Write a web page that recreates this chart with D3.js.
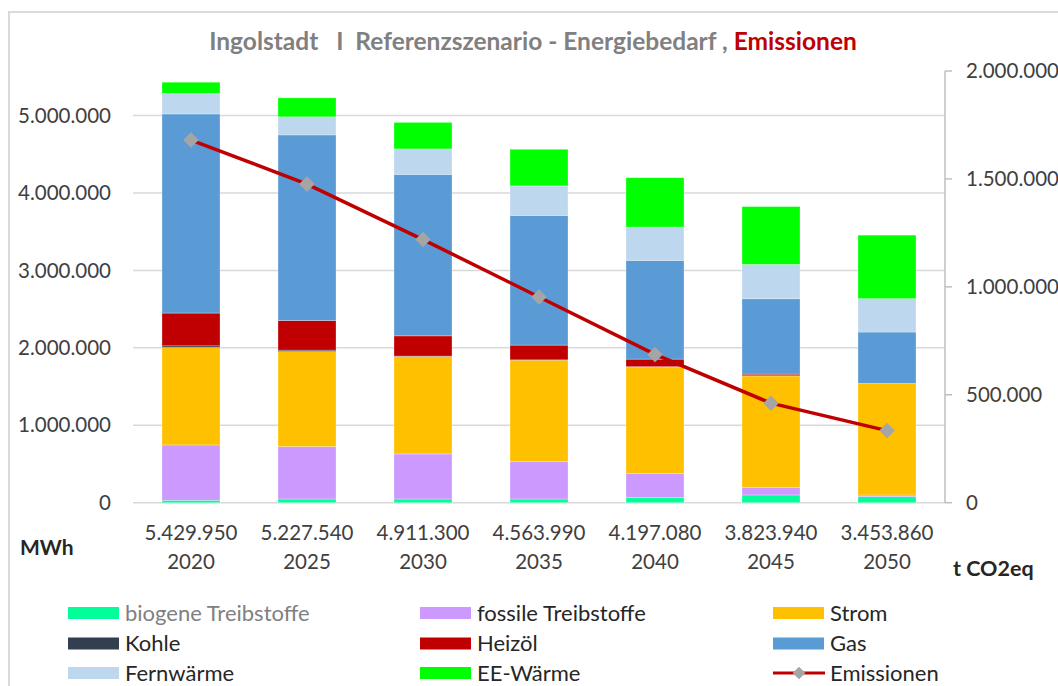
<!DOCTYPE html>
<html><head><meta charset="utf-8">
<script src="https://cdn.jsdelivr.net/npm/d3@7"></script>
<style>body{margin:0;background:#fff}svg{display:block;font-family:Lato,"Open Sans",sans-serif}</style>
</head><body><svg id="c" width="1058" height="686"></svg>
<script>
const years = ["2020","2025","2030","2035","2040","2045","2050"];
const totalLabels = ["5.429.950","5.227.540","4.911.300","4.563.990","4.197.080","3.823.940","3.453.860"];
const biogene   = [31000, 48000, 48000, 48000, 65000, 100000, 78000];
const fossil    = [715000, 676000, 582000, 482000, 315000, 99000, 22000];
const strom     = [1258000, 1228000, 1258000, 1311000, 1374000, 1439000, 1439000];
const kohle     = [22000, 18000, 5000, 4000, 3000, 2000, 0];
const heizoel   = [423000, 383000, 262000, 190000, 97000, 20000, 1000];
const gas       = [2572000, 2397000, 2085000, 1675000, 1275000, 974000, 664000];
const fernwaerme= [263000, 233000, 329000, 381000, 431000, 443000, 431000];
const eeWaerme  = [146000, 245000, 342000, 473000, 637000, 747000, 820000];
const emissionen= [1680000, 1476000, 1219000, 953000, 687000, 461000, 334000];
const leftTicks = [0,1000000,2000000,3000000,4000000,5000000];
const rightTicks = [0,500000,1000000,1500000,2000000];
const seriesNames = ["biogene Treibstoffe","fossile Treibstoffe","Strom","Kohle","Heizöl","Gas","Fernwärme","EE-Wärme"];
const seriesColors = ["#00FF99","#CC99FF","#FFC000","#333F50","#C00000","#5B9BD5","#BDD7EE","#00FF00"];
const seriesData = [biogene,fossil,strom,kohle,heizoel,gas,fernwaerme,eeWaerme];

const svg = d3.select("#c");
const loc = d3.formatLocale({decimal:",",thousands:".",grouping:[3],currency:["","€"]});
const fmt = loc.format(",d");

// frame
svg.append("path").attr("d","M9,686 V12 H1058").attr("fill","none").attr("stroke","#D9D9D9").attr("stroke-width",2);

const x0 = 133, x1 = 945, yB = 502.7, yT = 71;
const x = d3.scaleBand().domain(years).range([x0,x1]).paddingInner(0.5).paddingOuter(0.25);
const yL = d3.scaleLinear().domain([0,5575000]).range([yB,yT]);
const yR = d3.scaleLinear().domain([0,2000000]).range([yB,yT]);

// gridlines
svg.append("g").selectAll("line").data(leftTicks).join("line")
  .attr("x1",x0).attr("x2",x1).attr("y1",d=>yL(d)).attr("y2",d=>yL(d))
  .attr("stroke","#D9D9D9").attr("stroke-width",1.5);

// left labels
svg.append("g").selectAll("text").data(leftTicks).join("text")
  .attr("x",111).attr("y",d=>yL(d)).attr("dy","0.35em").attr("text-anchor","end")
  .attr("font-size",20.5).attr("fill","#404040").text(d=>fmt(d));

// stacked bars
const rows = years.map((y,i)=>{const o={year:y};seriesNames.forEach((n,k)=>o[n]=seriesData[k][i]);return o;});
const stack = d3.stack().keys(seriesNames)(rows);
svg.append("g").selectAll("g").data(stack).join("g")
  .attr("fill",(d,i)=>seriesColors[i])
  .selectAll("rect").data(d=>d).join("rect")
  .attr("x",d=>x(d.data.year)).attr("width",x.bandwidth())
  .attr("y",d=>yL(d[1])).attr("height",d=>Math.max(0,yL(d[0])-yL(d[1])))
  .attr("stroke","rgba(255,255,255,0.35)").attr("stroke-width",0.8);

// right axis
const ra = svg.append("g");
ra.append("line").attr("x1",x1).attr("x2",x1).attr("y1",yT).attr("y2",yB).attr("stroke","#BFBFBF").attr("stroke-width",1.5);
ra.selectAll("line.t").data(rightTicks).join("line").attr("class","t")
  .attr("x1",x1).attr("x2",x1+7).attr("y1",d=>yR(d)).attr("y2",d=>yR(d)).attr("stroke","#BFBFBF").attr("stroke-width",1.5);
ra.selectAll("text").data(rightTicks).join("text")
  .attr("x",966).attr("y",d=>yR(d)).attr("dy","0.35em")
  .attr("font-size",20.5).attr("fill","#404040").text(d=>fmt(d));

// emissions line
const cx = d=>x(d)+x.bandwidth()/2;
svg.append("path").datum(emissionen)
  .attr("d",d3.line().x((d,i)=>cx(years[i])).y(d=>yR(d)))
  .attr("fill","none").attr("stroke","#C00000").attr("stroke-width",3.5);
svg.append("g").selectAll("path").data(emissionen).join("path")
  .attr("transform",(d,i)=>`translate(${cx(years[i])},${yR(d)}) rotate(45)`)
  .attr("d","M-5.5,-5.5H5.5V5.5H-5.5Z").attr("fill","#A5A5A5");

// category labels
const cat = svg.append("g").attr("font-size",20.5).attr("fill","#404040").attr("text-anchor","middle");
cat.selectAll("text.v").data(totalLabels).join("text").attr("class","v")
  .attr("x",(d,i)=>cx(years[i])).attr("y",533).attr("dy","0.35em").text(d=>d);
cat.selectAll("text.y").data(years).join("text").attr("class","y")
  .attr("x",d=>cx(d)).attr("y",562).attr("dy","0.35em").text(d=>d);

svg.append("text").attr("x",20).attr("y",548).attr("dy","0.35em").attr("font-size",21).attr("font-weight","bold").attr("fill","#262626").text("MWh");
svg.append("text").attr("x",953).attr("y",568).attr("dy","0.35em").attr("font-size",21.5).attr("font-weight","bold").attr("fill","#262626").text("t CO2eq");

// title
const t = svg.append("text").attr("x",533).attr("y",41).attr("dy","0.35em").attr("text-anchor","middle")
  .attr("font-size",24.5).attr("font-weight","bold");
t.append("tspan").attr("fill","#808080").attr("xml:space","preserve").text("Ingolstadt   I  Referenzszenario - Energiebedarf , ");
t.append("tspan").attr("fill","#C00000").text("Emissionen");

// legend
const legItems = seriesNames.map((n,i)=>({name:n,color:seriesColors[i],type:"rect"})).concat([{name:"Emissionen",type:"line"}]);
const colX = [68,420,773], rowY = [613,643.5,673];
const lg = svg.append("g").selectAll("g").data(legItems).join("g")
  .attr("transform",(d,i)=>`translate(${colX[i%3]},${rowY[Math.floor(i/3)]})`);
lg.filter(d=>d.type==="rect").append("rect").attr("x",0).attr("y",-6).attr("width",51).attr("height",12).attr("fill",d=>d.color);
const ll = lg.filter(d=>d.type==="line");
ll.append("line").attr("x1",0).attr("x2",52).attr("y1",0).attr("y2",0).attr("stroke","#C00000").attr("stroke-width",3);
ll.append("path").attr("transform","translate(26,0) rotate(45)").attr("d","M-4.5,-4.5H4.5V4.5H-4.5Z").attr("fill","#A5A5A5");
lg.append("text").attr("x",57).attr("y",0).attr("dy","0.35em").attr("font-size",22)
  .attr("fill",(d,i)=>i===0?"#808080":"#262626").text(d=>d.name);
</script></body></html>
